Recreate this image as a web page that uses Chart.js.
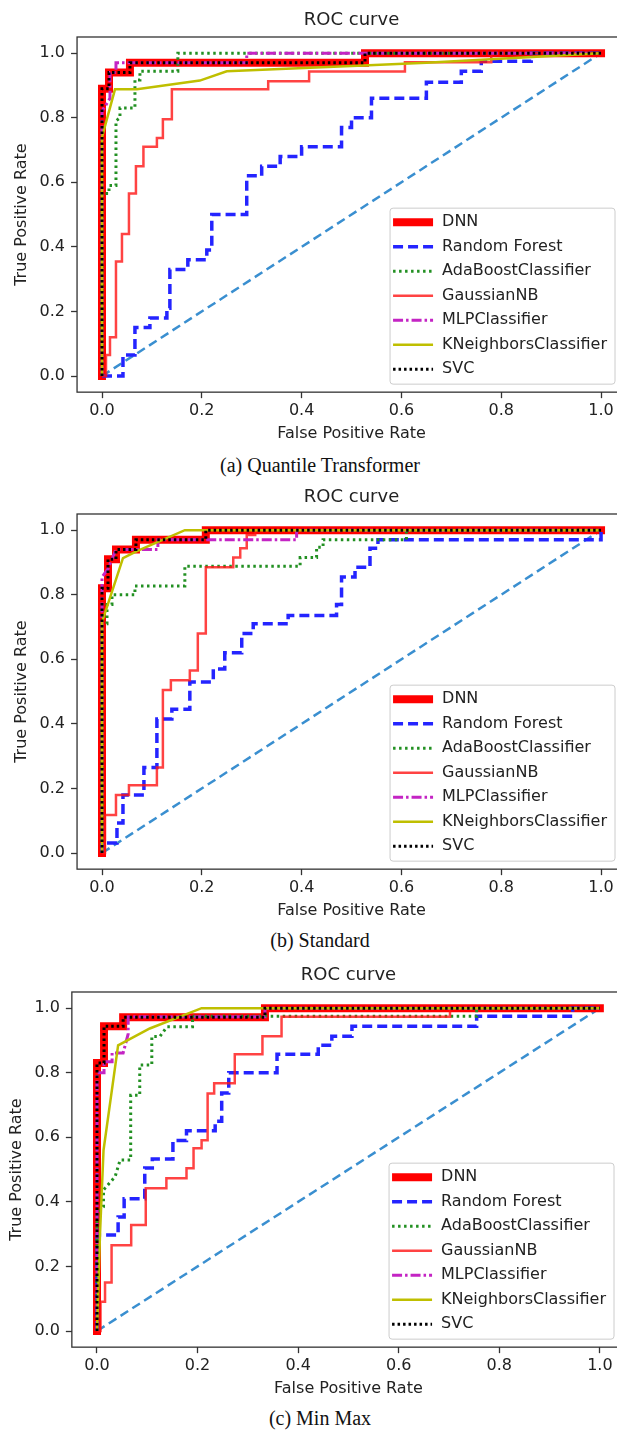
<!DOCTYPE html>
<html>
<head>
<meta charset="utf-8">
<script src="https://cdn.jsdelivr.net/npm/chart.js@4.4.1/dist/chart.umd.min.js"></script>
<style>
  html, body { margin: 0; padding: 0; background: #fff; }
  body { width: 617px; height: 1432px; overflow: hidden; position: relative; }
  canvas { position: absolute; left: 0; }
  .cap { position: absolute; left: 0; width: 640px; text-align: center;
         font-family: "Liberation Serif", serif; font-size: 20px; line-height: 24px; color: #111; }
</style>
</head>
<body>
<canvas id="qt" width="626" height="450" style="top:0px"></canvas>
<div class="cap" style="top:453px">(a) Quantile Transformer</div>
<canvas id="st" width="626" height="450" style="top:477px"></canvas>
<div class="cap" style="top:928px">(b) Standard</div>
<canvas id="mm" width="625" height="450" style="top:955px"></canvas>
<div class="cap" style="top:1406px">(c) Min Max</div>

<script>
// legend names and axis ticks
const names = ['DNN', 'Random Forest', 'AdaBoostClassifier', 'GaussianNB', 'MLPClassifier', 'KNeighborsClassifier', 'SVC'];
const tickVals = [0, 0.2, 0.4, 0.6, 0.8, 1.0];
const diag = [[0, 0], [1, 1]];

// ---- (a) Quantile Transformer : [fpr, tpr]
const qtDNN = [[0,0],[0,0.89],[0.014,0.89],[0.014,0.94],[0.056,0.94],[0.056,0.97],[0.527,0.97],[0.527,1],[1,1]];
const qtRF = [[0,0],[0.042,0],[0.042,0.065],[0.066,0.065],[0.066,0.15],[0.096,0.15],[0.096,0.18],[0.13,0.18],[0.13,0.21],[0.136,0.21],[0.136,0.33],[0.172,0.33],[0.172,0.36],[0.21,0.36],[0.21,0.39],[0.22,0.39],[0.22,0.5],[0.29,0.5],[0.29,0.62],[0.32,0.62],[0.32,0.65],[0.357,0.65],[0.357,0.68],[0.4,0.68],[0.4,0.71],[0.48,0.71],[0.48,0.77],[0.5,0.77],[0.5,0.8],[0.54,0.8],[0.54,0.86],[0.65,0.86],[0.65,0.91],[0.72,0.91],[0.72,0.944],[0.76,0.944],[0.76,0.975],[0.86,0.975],[0.86,1],[1,1]];
const qtAda = [[0,0],[0,0.565],[0.014,0.565],[0.014,0.59],[0.028,0.59],[0.028,0.79],[0.036,0.8],[0.036,0.83],[0.066,0.83],[0.066,0.917],[0.076,0.917],[0.076,0.944],[0.152,0.944],[0.152,1],[1,1]];
const qtGNB = [[0,0],[0.008,0],[0.008,0.065],[0.016,0.065],[0.016,0.12],[0.028,0.12],[0.028,0.355],[0.04,0.355],[0.04,0.44],[0.054,0.44],[0.054,0.565],[0.068,0.565],[0.068,0.65],[0.083,0.65],[0.083,0.71],[0.11,0.71],[0.11,0.737],[0.122,0.737],[0.122,0.795],[0.14,0.795],[0.14,0.888],[0.333,0.888],[0.333,0.913],[0.415,0.913],[0.415,0.943],[0.607,0.943],[0.607,0.972],[0.78,0.972],[0.78,1],[1,1]];
const qtMLP = [[0,0],[0,0.82],[0.016,0.86],[0.016,0.94],[0.028,0.94],[0.028,0.97],[0.29,0.97],[0.29,1],[1,1]];
const qtKNN = [[0,0],[0,0.74],[0.026,0.888],[0.07,0.888],[0.196,0.915],[0.25,0.944],[0.5,0.96],[0.65,0.97],[1,1]];
const qtSVC = [[0,0],[0,0.89],[0.014,0.89],[0.014,0.94],[0.056,0.94],[0.056,0.97],[0.527,0.97],[0.527,1],[1,1]];

// ---- (b) Standard
const stDNN = [[0,0],[0,0.82],[0.012,0.82],[0.012,0.91],[0.028,0.91],[0.028,0.94],[0.068,0.94],[0.068,0.97],[0.208,0.97],[0.208,1],[1,1]];
const stRF = [[0,0],[0,0.031],[0.03,0.031],[0.03,0.093],[0.042,0.093],[0.042,0.18],[0.084,0.18],[0.084,0.265],[0.11,0.265],[0.11,0.415],[0.14,0.415],[0.14,0.445],[0.176,0.445],[0.176,0.53],[0.223,0.53],[0.223,0.57],[0.246,0.57],[0.246,0.62],[0.28,0.62],[0.28,0.68],[0.303,0.68],[0.303,0.71],[0.373,0.71],[0.373,0.736],[0.47,0.736],[0.47,0.77],[0.48,0.77],[0.48,0.855],[0.507,0.855],[0.507,0.885],[0.537,0.885],[0.537,0.944],[0.553,0.944],[0.553,0.97],[1,0.97],[1,1]];
const stAda = [[0,0],[0,0.71],[0.01,0.71],[0.01,0.77],[0.02,0.77],[0.02,0.8],[0.066,0.8],[0.066,0.827],[0.166,0.827],[0.166,0.888],[0.397,0.888],[0.397,0.915],[0.43,0.915],[0.43,0.947],[0.443,0.947],[0.443,0.97],[0.61,0.97],[0.61,1],[1,1]];
const stGNB = [[0,0],[0.006,0],[0.006,0.118],[0.028,0.118],[0.028,0.18],[0.054,0.18],[0.054,0.21],[0.11,0.21],[0.11,0.265],[0.122,0.265],[0.122,0.505],[0.138,0.505],[0.138,0.535],[0.176,0.535],[0.176,0.565],[0.192,0.565],[0.192,0.68],[0.208,0.68],[0.208,0.885],[0.263,0.885],[0.263,0.915],[0.277,0.915],[0.277,0.944],[0.29,0.944],[0.29,0.985],[0.307,0.985],[0.307,1],[1,1]];
const stMLP = [[0,0],[0,0.855],[0.012,0.88],[0.028,0.94],[0.112,0.94],[0.112,0.97],[0.39,0.97],[0.39,1],[1,1]];
const stKNN = [[0,0],[0,0.715],[0.042,0.913],[0.07,0.935],[0.166,1],[1,1]];
const stSVC = [[0,0],[0,0.82],[0.012,0.82],[0.012,0.91],[0.028,0.91],[0.028,0.94],[0.068,0.94],[0.068,0.97],[0.208,0.97],[0.208,1],[1,1]];

// ---- (c) Min Max
const mmDNN = [[0,0],[0,0.83],[0.014,0.83],[0.014,0.944],[0.052,0.944],[0.052,0.972],[0.334,0.972],[0.334,1],[1,1]];
const mmRF = [[0,0],[0,0.297],[0.042,0.297],[0.042,0.353],[0.054,0.353],[0.054,0.41],[0.095,0.41],[0.095,0.505],[0.11,0.505],[0.11,0.533],[0.151,0.533],[0.151,0.59],[0.178,0.59],[0.178,0.62],[0.235,0.62],[0.235,0.65],[0.248,0.65],[0.248,0.737],[0.262,0.737],[0.262,0.8],[0.358,0.8],[0.358,0.857],[0.44,0.857],[0.44,0.885],[0.467,0.885],[0.467,0.913],[0.507,0.913],[0.507,0.944],[0.755,0.944],[0.755,0.975],[0.946,0.975],[0.946,1],[1,1]];
const mmAda = [[0,0],[0,0.36],[0.013,0.385],[0.013,0.437],[0.036,0.478],[0.046,0.53],[0.067,0.53],[0.067,0.73],[0.085,0.73],[0.085,0.824],[0.109,0.824],[0.109,0.912],[0.125,0.912],[0.139,0.942],[0.19,0.942],[0.19,0.975],[0.755,0.975],[0.755,1],[1,1]];
const mmGNB = [[0,0],[0.007,0],[0.007,0.091],[0.016,0.091],[0.016,0.15],[0.029,0.15],[0.029,0.266],[0.068,0.266],[0.068,0.328],[0.097,0.328],[0.097,0.442],[0.138,0.442],[0.138,0.473],[0.178,0.473],[0.178,0.504],[0.192,0.504],[0.192,0.566],[0.208,0.566],[0.208,0.591],[0.22,0.591],[0.22,0.736],[0.233,0.736],[0.233,0.767],[0.274,0.767],[0.274,0.857],[0.329,0.857],[0.329,0.913],[0.367,0.913],[0.367,0.973],[0.702,0.973],[0.702,1],[1,1]];
const mmMLP = [[0,0],[0,0.8],[0.014,0.8],[0.014,0.834],[0.03,0.834],[0.03,0.861],[0.052,0.861],[0.062,0.92],[0.062,0.973],[0.334,0.973],[0.334,1],[1,1]];
const mmKNN = [[0,0],[0.006,0.3],[0.013,0.56],[0.042,0.885],[0.105,0.937],[0.208,1],[1,1]];
const mmSVC = [[0,0],[0,0.83],[0.014,0.83],[0.014,0.944],[0.052,0.944],[0.052,0.972],[0.334,0.972],[0.334,1],[1,1]];

// line look, same order as names
const styles = [
  { color: '#ff0000', width: 8, dash: [], cap: 'square' },
  { color: '#2424ff', width: 3.5, dash: [10, 5] },
  { color: '#229022', width: 3, dash: [2.5, 3.5] },
  { color: 'rgba(255,20,20,0.8)', width: 2.5, dash: [] },
  { color: '#c424c4', width: 3, dash: [10, 3, 2.5, 3] },
  { color: '#bfbf00', width: 2.5, dash: [] },
  { color: '#000000', width: 3, dash: [2.5, 3] }
];

const txt = '#222';
const font16 = { family: 'DejaVu Sans', size: 16 };
const pts = a => a.map(([x, y]) => ({ x, y }));

// axes box (matplotlib draws all four spines)
const frame = {
  id: 'frame',
  afterDatasetsDraw(chart) {
    const { ctx, chartArea: ca } = chart;
    ctx.save();
    ctx.strokeStyle = '#333';
    ctx.lineWidth = 1.3;
    ctx.strokeRect(ca.left, ca.top, ca.right - ca.left, ca.bottom - ca.top);
    ctx.restore();
  }
};

// legend in the lower right corner of the axes
const cornerLegend = {
  id: 'cornerLegend',
  afterDraw(chart) {
    const { ctx, chartArea: ca } = chart;
    const items = chart.data.datasets.filter(d => d.label);
    ctx.save();
    ctx.font = '16px "DejaVu Sans"';
    const textW = Math.max(...items.map(d => ctx.measureText(d.label).width));
    const rowH = 24.5;
    const w = 52 + textW + 8, h = 14 + rowH * (items.length - 1) + 15;
    const right = ca.right - 11, bottom = ca.bottom - 8;
    const left = right - w, top = bottom - h;
    ctx.fillStyle = 'rgba(255,255,255,0.85)';
    ctx.strokeStyle = '#cccccc';
    ctx.lineWidth = 1;
    ctx.beginPath();
    ctx.roundRect(left, top, w, h, 3);
    ctx.fill();
    ctx.stroke();
    items.forEach((d, i) => {
      const y = top + 14 + i * rowH;
      ctx.strokeStyle = d.borderColor;
      ctx.lineWidth = d.borderWidth;
      ctx.setLineDash(d.borderDash);
      ctx.lineCap = 'butt';
      ctx.beginPath();
      ctx.moveTo(left + 3, y);
      ctx.lineTo(left + 43, y);
      ctx.stroke();
      ctx.setLineDash([]);
      ctx.fillStyle = txt;
      ctx.textBaseline = 'middle';
      ctx.fillText(d.label, left + 52, y);
    });
    ctx.restore();
  }
};

function rocChart(id, series, yWidth, yTitlePad) {
  const ds = [{
    label: '', data: pts(diag), borderColor: '#3a8fd0', borderWidth: 2.5,
    borderDash: [9, 5], order: 0
  }];
  series.forEach((s, i) => {
    const st = styles[i];
    ds.push({
      label: names[i], data: pts(s), borderColor: st.color, borderWidth: st.width,
      borderDash: st.dash, borderCapStyle: st.cap || 'butt', order: -(i + 1)
    });
  });

  new Chart(document.getElementById(id), {
    type: 'line',
    data: { datasets: ds },
    options: {
      responsive: false,
      animation: false,
      elements: {
        point: { radius: 0, hoverRadius: 0 },
        line: { tension: 0, fill: false, borderJoinStyle: 'miter' }
      },
      layout: { padding: 0 },
      plugins: {
        legend: { display: false },
        tooltip: { enabled: false },
        title: {
          display: true, text: 'ROC curve', fullSize: false, color: txt,
          font: { family: 'DejaVu Sans', size: 18, weight: 'normal' },
          padding: { top: 9.2, bottom: 6.2 }
        }
      },
      scales: {
        x: {
          type: 'linear', min: -0.05, max: 1.05,
          afterBuildTicks: s => { s.ticks = tickVals.map(v => ({ value: v })); },
          afterFit: s => { s.height = 57.85; },
          ticks: { callback: v => v.toFixed(1), font: font16, color: txt, padding: 3, maxRotation: 0, autoSkip: false },
          grid: { drawOnChartArea: false, drawTicks: true, tickLength: 6, tickColor: '#333', tickWidth: 1.3 },
          border: { display: false },
          title: { display: true, text: 'False Positive Rate', font: font16, color: txt, padding: { top: 0, bottom: 6.4 } }
        },
        y: {
          type: 'linear', min: -0.05, max: 1.05,
          afterBuildTicks: s => { s.ticks = tickVals.map(v => ({ value: v })); },
          afterFit: s => { s.width = yWidth; },
          ticks: { callback: v => v.toFixed(1), font: font16, color: txt, padding: 6, autoSkip: false },
          grid: { drawOnChartArea: false, drawTicks: true, tickLength: 6, tickColor: '#333', tickWidth: 1.3 },
          border: { display: false },
          title: { display: true, text: 'True Positive Rate', font: font16, color: txt, padding: { top: yTitlePad, bottom: 0 } }
        }
      }
    },
    plugins: [frame, cornerLegend]
  });
}

rocChart('qt', [qtDNN, qtRF, qtAda, qtGNB, qtMLP, qtKNN, qtSVC], 77.05, 12.4);
rocChart('st', [stDNN, stRF, stAda, stGNB, stMLP, stKNN, stSVC], 77.05, 12.4);
rocChart('mm', [mmDNN, mmRF, mmAda, mmGNB, mmMLP, mmKNN, mmSVC], 71.85, 7.5);
</script>
</body>
</html>
